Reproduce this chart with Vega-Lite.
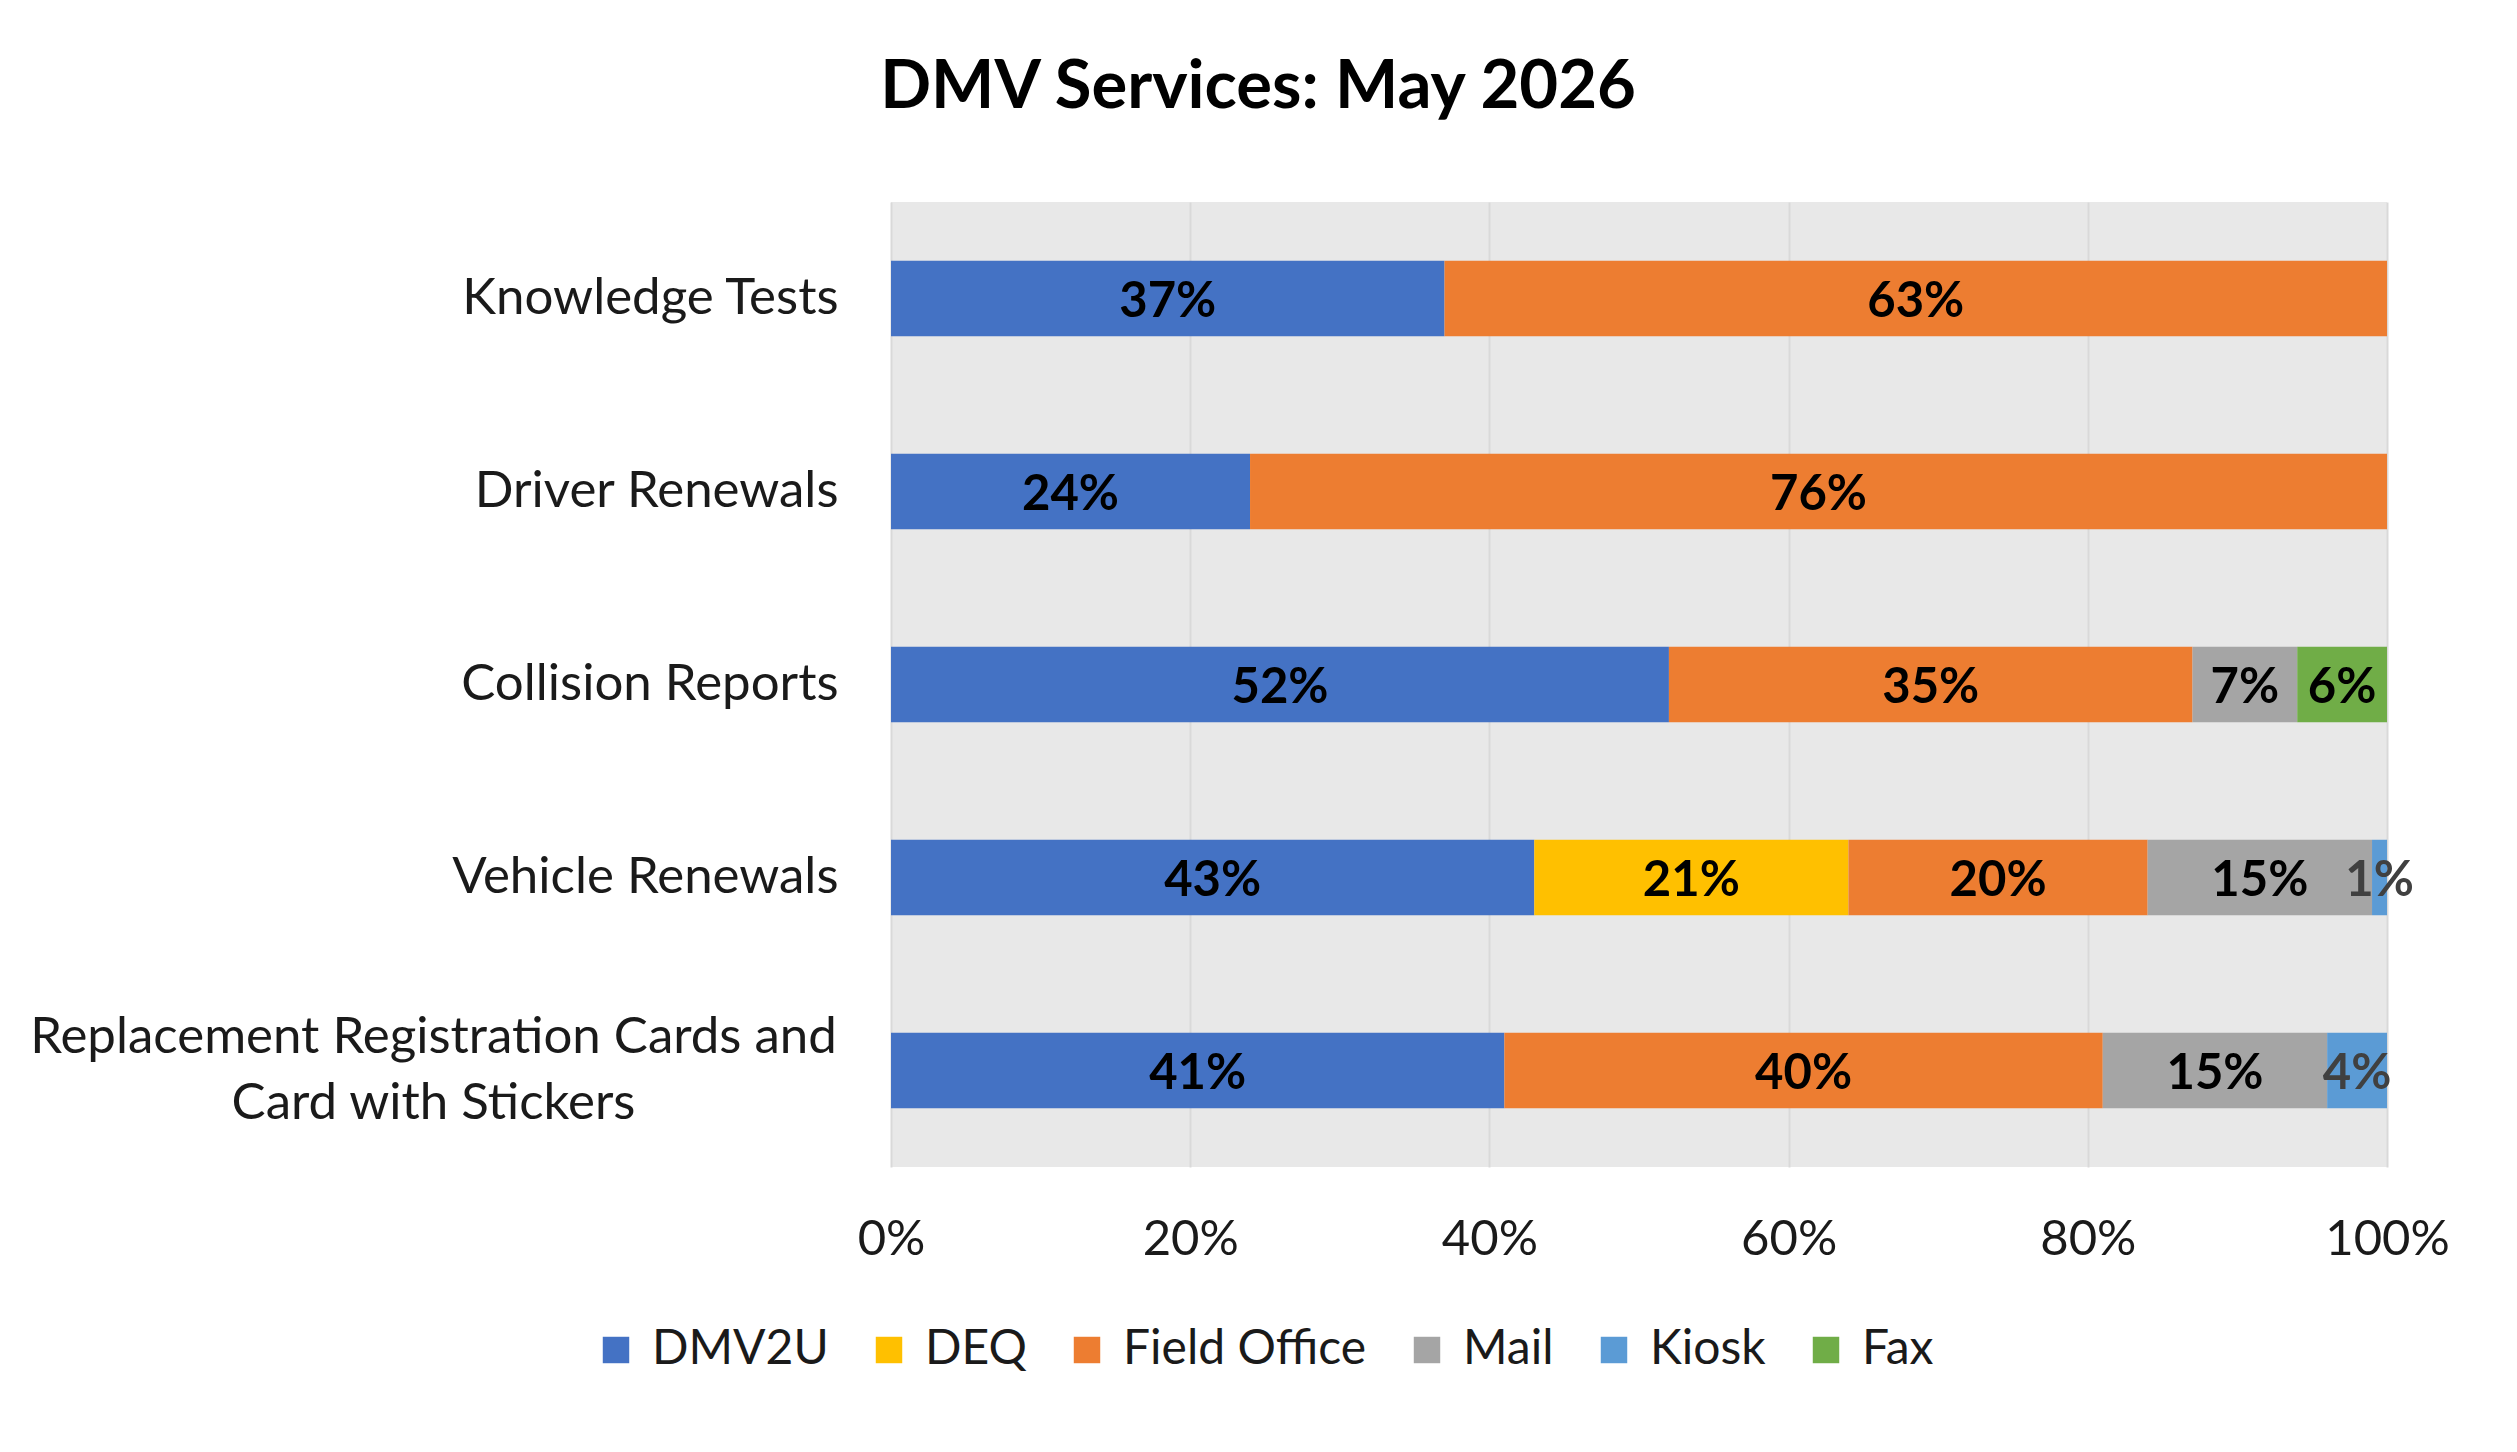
{
  "$schema": "https://vega.github.io/schema/vega-lite/v6.json",
  "width": 1496,
  "height": 965,
  "autosize": {"type": "none"},
  "padding": {"left": 891, "top": 202, "right": 130, "bottom": 285},
  "background": "white",
  "title": {"text": "DMV Services: May 2026", "font": "Lato", "fontSize": 67, "fontWeight": "bold", "color": "#000000", "anchor": "middle", "dx": -381, "offset": 80},
  "config": {
    "view": {"fill": "#E8E8E8", "stroke": null},
    "font": "Lato"
  },
  "data": {
    "values": [
      {"service": "Knowledge Tests", "channel": "DMV2U", "share": 0.37, "ord": 1},
      {"service": "Knowledge Tests", "channel": "Field Office", "share": 0.63, "ord": 3},
      {"service": "Driver Renewals", "channel": "DMV2U", "share": 0.24, "ord": 1},
      {"service": "Driver Renewals", "channel": "Field Office", "share": 0.76, "ord": 3},
      {"service": "Collision Reports", "channel": "DMV2U", "share": 0.52, "ord": 1},
      {"service": "Collision Reports", "channel": "Field Office", "share": 0.35, "ord": 3},
      {"service": "Collision Reports", "channel": "Mail", "share": 0.07, "ord": 4},
      {"service": "Collision Reports", "channel": "Fax", "share": 0.06, "ord": 6},
      {"service": "Vehicle Renewals", "channel": "DMV2U", "share": 0.43, "ord": 1},
      {"service": "Vehicle Renewals", "channel": "DEQ", "share": 0.21, "ord": 2},
      {"service": "Vehicle Renewals", "channel": "Field Office", "share": 0.20, "ord": 3},
      {"service": "Vehicle Renewals", "channel": "Mail", "share": 0.15, "ord": 4},
      {"service": "Vehicle Renewals", "channel": "Kiosk", "share": 0.01, "ord": 5},
      {"service": "Replacement Registration Cards and Card with Stickers", "channel": "DMV2U", "share": 0.41, "ord": 1},
      {"service": "Replacement Registration Cards and Card with Stickers", "channel": "Field Office", "share": 0.40, "ord": 3},
      {"service": "Replacement Registration Cards and Card with Stickers", "channel": "Mail", "share": 0.15, "ord": 4},
      {"service": "Replacement Registration Cards and Card with Stickers", "channel": "Kiosk", "share": 0.04, "ord": 5}
    ]
  },
  "encoding": {
    "y": {
      "field": "service",
      "type": "nominal",
      "sort": ["Knowledge Tests", "Driver Renewals", "Collision Reports", "Vehicle Renewals", "Replacement Registration Cards and Card with Stickers"],
      "scale": {"paddingInner": 0.61, "paddingOuter": 0.305},
      "axis": {
        "title": null,
        "domain": false,
        "ticks": false,
        "labelFont": "Lato",
        "labelFontSize": 51,
        "labelColor": "#1a1a1a",
        "labelLimit": 2000,
        "labelLineHeight": 66,
        "labelOffset": {"condition": {"test": "datum.value == 'Replacement Registration Cards and Card with Stickers'", "value": -33}, "value": 0},
        "labelPadding": {"condition": {"test": "datum.value == 'Replacement Registration Cards and Card with Stickers'", "value": 458}, "value": 53},
        "labelAlign": {"condition": {"test": "datum.value == 'Replacement Registration Cards and Card with Stickers'", "value": "center"}, "value": "right"},
        "labelExpr": "datum.value == 'Replacement Registration Cards and Card with Stickers' ? ['Replacement Registration Cards and', 'Card with Stickers'] : datum.value"
      }
    }
  },
  "layer": [
    {
      "mark": {"type": "bar"},
      "encoding": {
        "x": {
          "field": "share",
          "type": "quantitative",
          "stack": "zero",
          "scale": {"domain": [0, 1]},
          "axis": {
            "title": null,
            "domain": false,
            "ticks": false,
            "values": [0, 0.2, 0.4, 0.6, 0.8, 1],
            "format": ".0%",
            "labelFont": "Lato",
            "labelFontSize": 49,
            "labelColor": "#1a1a1a",
            "labelPadding": 48,
            "labelFlush": false,
            "gridColor": "#D9D9D9",
            "gridWidth": 2
          }
        },
        "order": {"field": "ord", "type": "quantitative"},
        "color": {
          "field": "channel",
          "type": "nominal",
          "scale": {
            "domain": ["DMV2U", "DEQ", "Field Office", "Mail", "Kiosk", "Fax"],
            "range": ["#4472C4", "#FFC000", "#ED7D31", "#A5A5A5", "#5B9BD5", "#70AD47"]
          },
          "legend": {
            "title": null,
            "orient": "none",
            "direction": "horizontal",
            "legendX": -299,
            "legendY": 1124,
            "symbolType": "square",
            "symbolSize": 700,
            "symbolStrokeWidth": 0,
            "labelFont": "Lato",
            "labelFontSize": 48,
            "labelColor": "#1a1a1a",
            "labelOffset": 12,
            "columnPadding": 36,
            "labelLimit": 1000
          }
        }
      }
    },
    {
      "mark": {"type": "text", "font": "Lato", "fontWeight": "bold", "fontSize": 49, "baseline": "middle", "align": "center", "dy": 3},
      "encoding": {
        "x": {"field": "share", "type": "quantitative", "stack": "zero", "bandPosition": 0.5},
        "order": {"field": "ord", "type": "quantitative"},
        "text": {"field": "share", "type": "quantitative", "format": ".0%"},
        "color": {"condition": {"test": "datum.channel == 'Kiosk'", "value": "#404040"}, "value": "#000000"}
      }
    }
  ]
}
